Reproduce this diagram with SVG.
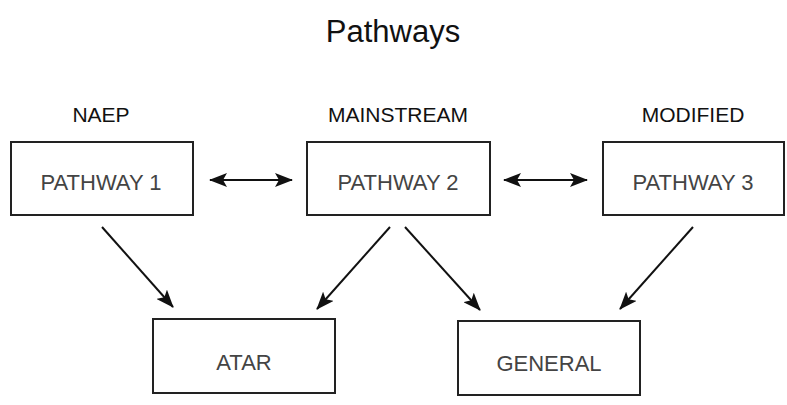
<svg xmlns="http://www.w3.org/2000/svg" width="787" height="405" viewBox="0 0 787 405">
<style>
.box{fill:#fff;stroke:#222;stroke-width:2}
.lbl{font-family:"Liberation Sans",Arial,sans-serif;font-size:22px;fill:#444;text-anchor:middle}
.hdr{font-family:"Liberation Sans",Arial,sans-serif;font-size:21px;fill:#111;text-anchor:middle}
.ttl{font-family:"Liberation Sans",Arial,sans-serif;font-size:31px;fill:#111;text-anchor:middle}
.con{stroke:#111;stroke-width:2;fill:none}
</style>
<defs>
<marker id="ah" viewBox="0 0 18 14" refX="17" refY="7" markerWidth="18" markerHeight="14" markerUnits="userSpaceOnUse" orient="auto-start-reverse">
<path d="M0,0 L18,7 L0,14 L4,7 Z" fill="#111"/>
</marker>
</defs>
<rect width="787" height="405" fill="#fff"/>
<text class="ttl" x="393" y="42">Pathways</text>
<text class="hdr" x="101" y="122">NAEP</text>
<text class="hdr" x="398" y="122">MAINSTREAM</text>
<text class="hdr" x="693" y="122">MODIFIED</text>
<g id="pathway1"><rect class="box" x="11" y="142" width="182" height="73"/><text class="lbl" x="101" y="190">PATHWAY 1</text></g>
<g id="pathway2"><rect class="box" x="307" y="142" width="183" height="73"/><text class="lbl" x="398" y="190">PATHWAY 2</text></g>
<g id="pathway3"><rect class="box" x="603" y="142" width="181" height="73"/><text class="lbl" x="693" y="190">PATHWAY 3</text></g>
<g id="atar"><rect class="box" x="153" y="319" width="182" height="74"/><text class="lbl" x="244" y="370">ATAR</text></g>
<g id="general"><rect class="box" x="458" y="321" width="182" height="74"/><text class="lbl" x="549" y="371">GENERAL</text></g>
<g id="connectors">
<line class="con" x1="210" y1="180" x2="292" y2="180" marker-start="url(#ah)" marker-end="url(#ah)"/>
<line class="con" x1="504" y1="180" x2="587" y2="180" marker-start="url(#ah)" marker-end="url(#ah)"/>
<line class="con" x1="102" y1="227" x2="173" y2="307" marker-end="url(#ah)"/>
<line class="con" x1="390" y1="227" x2="317" y2="309" marker-end="url(#ah)"/>
<line class="con" x1="405" y1="227" x2="480" y2="310" marker-end="url(#ah)"/>
<line class="con" x1="693" y1="227" x2="620" y2="309" marker-end="url(#ah)"/>
</g>
</svg>
